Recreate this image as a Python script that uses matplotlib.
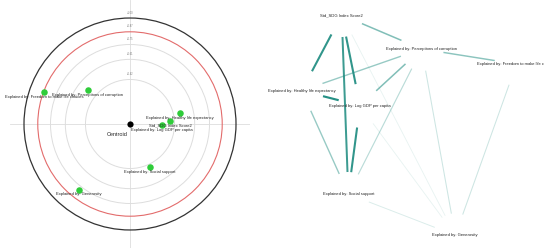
import numpy as np
import matplotlib
matplotlib.use("Agg")
import matplotlib.pyplot as plt
from matplotlib.patches import Circle

plt.rcParams['font.family'] = ['Liberation Sans', 'DejaVu Sans']

# --- data: left panel (distance circle) ---
point_labels = [
    "Explained by: Freedom to make life choices",
    "Explained by: Perceptions of corruption",
    "Explained by: Healthy life expectancy",
    "Std_SDG Index Score2",
    "Explained by: Log GDP per capita",
    "Explained by: Social support",
    "Explained by: Generosity",
]
point_x = [-0.81, -0.40, 0.47, 0.38, 0.30, 0.19, -0.48]
point_y = [0.30, 0.32, 0.10, 0.03, -0.01, -0.41, -0.62]

grey_radii = [0.42, 0.61, 0.75]
red_radius = 0.87
black_radius = 1.0
ring_labels = ["+0.42", "+0.61", "+0.75", "+0.87", "+1.00"]

# --- data: right panel (network) ---
node_names = ["Std_SDG", "Perceptions", "Freedom", "Healthy", "LogGDP", "Social", "Generosity"]
node_text = [
    "Std_SDG Index Score2",
    "Explained by: Perceptions of corruption",
    "Explained by: Freedom to make life choices",
    "Explained by: Healthy life expectancy",
    "Explained by: Log GDP per capita",
    "Explained by: Social support",
    "Explained by: Generosity",
]
node_x = [341.7, 421.7, 516.5, 301.7, 360.0, 348.3, 455.3]
node_y = [15.0, 49.0, 64.0, 90.7, 105.7, 194.0, 235.3]

edge_src = ["Std_SDG", "Std_SDG", "Std_SDG", "Std_SDG", "Healthy", "LogGDP", "Perceptions", "Healthy",
            "Healthy", "LogGDP", "Perceptions", "Perceptions", "Freedom", "Social", "LogGDP", "Std_SDG"]
edge_dst = ["Perceptions", "Healthy", "Social", "LogGDP", "Perceptions", "Perceptions", "Freedom", "LogGDP",
            "Social", "Social", "Social", "Generosity", "Generosity", "Generosity", "Generosity", "Generosity"]
edge_w = [0.55, 0.9, 0.85, 0.9, 0.45, 0.55, 0.5, 0.95,
          0.45, 0.9, 0.3, 0.22, 0.22, 0.16, 0.1, 0.1]

fig = plt.figure(figsize=(5.5, 2.48), dpi=100)

# ---------- left panel ----------
ax1 = fig.add_axes([10 / 550, 0, 240 / 550, 1])
ax1.set_xlim(-1.132, 1.132)
ax1.set_ylim(-1.17, 1.17)
ax1.axis('off')
ax1.axhline(0, color='#dddddd', lw=0.6, zorder=0)
ax1.axvline(0, color='#dddddd', lw=0.6, zorder=0)

for r in grey_radii:
    ax1.add_patch(Circle((0, 0), r, fill=False, ec='#dddddd', lw=0.7))
ax1.add_patch(Circle((0, 0), red_radius, fill=False, ec='#e36c6c', lw=0.8))
ax1.add_patch(Circle((0, 0), black_radius, fill=False, ec='#333333', lw=0.9))

for r, lab in zip(grey_radii + [red_radius, black_radius], ring_labels):
    ax1.text(0, r + 0.05, lab, fontsize=1.8, color='#777777', ha='center', va='center')

ax1.scatter(point_x, point_y, s=22, color='#2fcc3a', zorder=3, linewidths=0)
for x, y, lab in zip(point_x, point_y, point_labels):
    ax1.annotate(lab, (x, y), xytext=(0, -3.3), textcoords='offset points',
                 fontsize=2.95, ha='center', va='center', color='#222222', zorder=4)

ax1.scatter([0], [0], s=20, color='black', zorder=3, linewidths=0)
ax1.annotate("Centroid", (0, 0), xytext=(-9.5, -7.2), textcoords='offset points',
             fontsize=4, ha='center', va='center', color='#222222')

# ---------- right panel ----------
ax2 = fig.add_axes([268 / 550, 0, 276 / 550, 1])
ax2.set_xlim(268, 544)
ax2.set_ylim(248, 0)
ax2.axis('off')

pos = {n: (x, y) for n, x, y in zip(node_names, node_x, node_y)}
shrink = 22.0
for s, d, w in zip(edge_src, edge_dst, edge_w):
    p0 = np.array(pos[s])
    p1 = np.array(pos[d])
    v = p1 - p0
    u = v / np.hypot(*v)
    a = p0 + u * shrink
    b = p1 - u * shrink
    ax2.plot([a[0], b[0]], [a[1], b[1]], color='#1a8a7e', alpha=w,
             lw=0.5 + 1.1 * w, solid_capstyle='butt', zorder=1)

ax2.scatter(node_x, node_y, s=350, color='white', zorder=2, linewidths=0)
for x, y, t in zip(node_x, node_y, node_text):
    ax2.text(x, y, t, fontsize=2.95, ha='center', va='center', color='#222222',
             zorder=3, clip_on=True)

fig.savefig("out.png", dpi=100)
